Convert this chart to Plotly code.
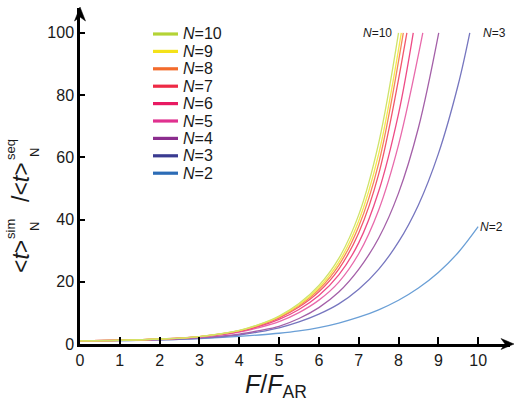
import plotly.graph_objects as go

# Simultaneous / sequential mean time ratio versus normalised force, per N
f_n10 = [0, 1, 2, 3, 4, 4.5, 5, 5.5, 6, 6.5, 7, 7.5, 8.0]
r_n10 = [1.0, 1.2, 1.6, 2.4, 4.4, 6.3, 9.0, 13.0, 18.8, 27.5, 41.5, 64.5, 100]

f_n9 = [0, 1, 2, 3, 4, 4.5, 5, 5.5, 6, 6.5, 7, 7.5, 8.07]
r_n9 = [1.0, 1.2, 1.6, 2.4, 4.3, 6.2, 8.8, 12.6, 18.1, 26.3, 39.5, 61, 100]

f_n8 = [0, 1, 2, 3, 4, 4.5, 5, 5.5, 6, 6.5, 7, 7.5, 8.12]
r_n8 = [1.0, 1.2, 1.6, 2.4, 4.3, 6.1, 8.6, 12.3, 17.5, 25.3, 37.8, 58, 100]

f_n7 = [0, 1, 2, 3, 4, 4.5, 5, 5.5, 6, 6.5, 7, 7.5, 8.21]
r_n7 = [1.0, 1.2, 1.6, 2.35, 4.2, 6.0, 8.4, 11.9, 16.8, 24.1, 35.7, 54.5, 100]

f_n6 = [0, 1, 2, 3, 4, 4.5, 5, 5.5, 6, 6.5, 7, 7.5, 8, 8.37]
r_n6 = [1.0, 1.2, 1.55, 2.3, 4.0, 5.7, 7.9, 11.1, 15.6, 22.2, 32.5, 49, 74, 100]

f_n5 = [0, 1, 2, 3, 4, 4.5, 5, 5.5, 6, 6.5, 7, 7.5, 8, 8.61]
r_n5 = [1.0, 1.2, 1.5, 2.2, 3.8, 5.3, 7.2, 10.1, 14.1, 19.9, 29, 43, 64, 100]

f_n4 = [0, 1, 2, 3, 4, 4.5, 5, 5.5, 6, 6.5, 7, 7.5, 8, 8.5, 9.01]
r_n4 = [1.0, 1.15, 1.45, 2.05, 3.2, 4.3, 5.7, 8.2, 11.7, 16.7, 24, 34, 48.5, 69.5, 100]

f_n3 = [0, 1, 2, 3, 4, 4.5, 5, 5.5, 6, 6.5, 7, 7.5, 8, 8.5, 9, 9.5, 9.79]
r_n3 = [1.0, 1.1, 1.35, 1.85, 2.9, 3.9, 5.2, 7.1, 9.6, 12.9, 17.6, 24, 32.8, 44.7, 61.1, 83.4, 100]

f_n2 = [0, 1, 2, 3, 4, 4.5, 5, 5.5, 6, 6.5, 7, 7.5, 8, 8.5, 9, 9.5, 10]
r_n2 = [1.0, 1.1, 1.3, 1.75, 2.45, 2.9, 3.45, 4.2, 5.25, 6.72, 8.6, 11.0, 14.07, 18.0, 23.0, 29.4, 37.7]

n_values = [10, 9, 8, 7, 6, 5, 4, 3, 2]
series_f = [f_n10, f_n9, f_n8, f_n7, f_n6, f_n5, f_n4, f_n3, f_n2]
series_r = [r_n10, r_n9, r_n8, r_n7, r_n6, r_n5, r_n4, r_n3, r_n2]
legend_colors = ["#b4d335", "#f4e21a", "#f36b2c", "#ee2a45", "#e81a62",
                 "#e0318f", "#8b2d8e", "#3a3b91", "#2c6cb6"]
curve_colors = ["#cfe36a", "#f6e84e", "#f58a5a", "#f2566c", "#ee4b86",
                "#e86aab", "#a460a8", "#7676bf", "#6a9fd6"]

x_ticks = [0, 1, 2, 3, 4, 5, 6, 7, 8, 9, 10]
y_ticks = [0, 20, 40, 60, 80, 100]

FONT = "Liberation Sans, Arial, Helvetica, sans-serif"
INK = "#1a1a1a"

# plot-area geometry (pixels)
W, H = 516, 401
L, R, T, B = 80, 6, 8, 57
PW, PH = W - L - R, H - T - B


def px_x(p):
    return (p - L) / PW


def px_y(p):
    return (H - B - p) / PH


fig = go.Figure()

# thin response curves (drawn back to front, N=2 first)
for n, fx, ry, col in reversed(list(zip(n_values, series_f, series_r, curve_colors))):
    fig.add_trace(go.Scatter(
        x=fx, y=ry, mode="lines", showlegend=False, hoverinfo="skip", name=f"N={n}",
        line=dict(color=col, width=1.3, shape="spline", smoothing=1.0),
    ))

fig.update_layout(
    width=W, height=H,
    margin=dict(l=L, r=R, t=T, b=B),
    paper_bgcolor="white", plot_bgcolor="white",
    font=dict(family=FONT, color=INK, size=15),
    showlegend=False,
    xaxis=dict(
        range=[0, 10.8], tickvals=x_ticks, ticktext=[str(v) for v in x_ticks],
        showgrid=False, zeroline=False, showline=True, linecolor="black",
        linewidth=2.5, ticks="inside", ticklen=7, tickwidth=2, tickcolor="black",
        tickfont=dict(size=16, family=FONT, color=INK),
    ),
    yaxis=dict(
        range=[0, 108], tickvals=y_ticks, ticktext=[str(v) for v in y_ticks],
        showgrid=False, zeroline=False, showline=True, linecolor="black",
        linewidth=2.5, ticks="inside", ticklen=5, tickwidth=2, tickcolor="black",
        tickfont=dict(size=16, family=FONT, color=INK),
    ),
)

# arrowheads at the ends of both axes
fig.add_shape(type="path", xref="paper", yref="paper", xsizemode="pixel", ysizemode="pixel",
              xanchor=px_x(514), yanchor=px_y(H - B),
              path="M 0,0 L -13,5.5 L -9,0 L -13,-5.5 Z",
              fillcolor="black", line=dict(color="black", width=0.5))
fig.add_shape(type="path", xref="paper", yref="paper", xsizemode="pixel", ysizemode="pixel",
              xanchor=px_x(L), yanchor=px_y(7),
              path="M 0,0 L -5.5,-14 L 0,-10 L 5.5,-14 Z",
              fillcolor="black", line=dict(color="black", width=0.5))

# legend: swatch + label per N
for i, (n, col) in enumerate(zip(n_values, legend_colors)):
    row_y = 34 + 17.4 * i
    fig.add_shape(type="line", xref="paper", yref="paper",
                  x0=px_x(153), x1=px_x(178), y0=px_y(row_y), y1=px_y(row_y),
                  line=dict(color=col, width=3.2))
    fig.add_annotation(xref="paper", yref="paper", x=px_x(181), y=px_y(row_y),
                       text=f"<i>N</i>={n}", showarrow=False, xanchor="left", yanchor="middle",
                       font=dict(size=16, family=FONT, color=INK))

# curve end labels
fig.add_annotation(x=f_n10[-1] - 0.12, y=r_n10[-1], text="<i>N</i>=10", showarrow=False,
                   xanchor="right", yanchor="middle", font=dict(size=12, family=FONT, color=INK))
fig.add_annotation(x=f_n3[-1] + 0.28, y=r_n3[-1], text="<i>N</i>=3", showarrow=False,
                   xanchor="left", yanchor="middle", font=dict(size=12, family=FONT, color=INK))
fig.add_annotation(x=f_n2[-1] + 0.0, y=r_n2[-1], text="<i>N</i>=2", showarrow=False,
                   xanchor="left", yanchor="middle", font=dict(size=12, family=FONT, color=INK))

# x-axis title
fig.add_annotation(xref="paper", yref="paper", x=px_x(276), y=px_y(386),
                   text="<i>F</i>/<i>F</i><sub>AR</sub>", showarrow=False,
                   xanchor="center", yanchor="middle", font=dict(size=25, family=FONT, color=INK))

# y-axis title, assembled from stacked pieces (rotated)
y_title_parts = [
    ("&lt;<i>t</i>&gt;", 23, 21, 257),
    ("sim", 13, 10, 229),
    ("N", 13, 34, 227),
    ("/&lt;<i>t</i>&gt;", 23, 21, 182),
    ("seq", 13, 10, 150),
    ("N", 13, 34, 153),
]
for txt, size, px, py in y_title_parts:
    fig.add_annotation(xref="paper", yref="paper", x=px_x(px), y=px_y(py),
                       text=txt, showarrow=False, textangle=-90,
                       xanchor="center", yanchor="middle",
                       font=dict(size=size, family=FONT, color=INK))

fig.write_html("out.html")
